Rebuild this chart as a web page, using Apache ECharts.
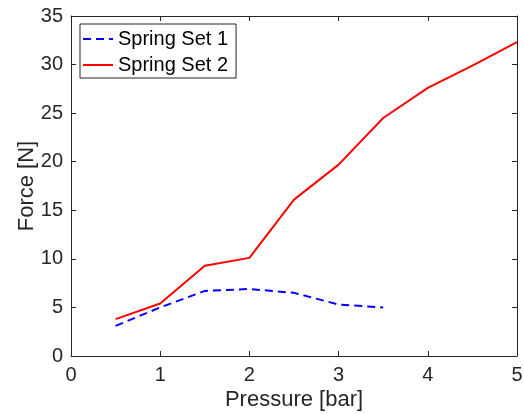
<!DOCTYPE html>
<html>
<head>
<meta charset="utf-8">
<script src="https://cdn.jsdelivr.net/npm/echarts@6/dist/echarts.min.js"></script>
<style>html,body{margin:0;padding:0;background:#fff;}#c{width:524px;height:414px;}</style>
</head>
<body>
<div id="c"></div>
<script>
const pressure1 = [0.5, 1, 1.5, 2, 2.5, 3, 3.5];
const force1 = [3.1, 5.0, 6.7, 6.9, 6.5, 5.3, 5.0];
const pressure2 = [0.5, 1, 1.5, 2, 2.5, 3, 3.5, 4, 4.5, 5];
const force2 = [3.8, 5.4, 9.3, 10.1, 16.1, 19.7, 24.5, 27.6, 29.9, 32.3];
const seriesNames = ['Spring Set 1', 'Spring Set 2'];
const xTitle = 'Pressure [bar]';
const yTitle = 'Force [N]';

const axisColor = '#262626';
const font = 'Liberation Sans, Arial, Helvetica, sans-serif';
const chart = echarts.init(document.getElementById('c'), null, {renderer: 'canvas'});
const baseAxis = {
  axisLine: {show: true, onZero: false, lineStyle: {color: axisColor, width: 1}},
  axisTick: {show: true, inside: true, length: 5, lineStyle: {color: axisColor}},
  splitLine: {show: false}
};
chart.setOption({
  animation: false,
  grid: {left: 71, right: 7, top: 16, bottom: 58, containLabel: false, outerBoundsMode: 'none'},
  legend: {
    orient: 'vertical', left: 80, top: 24,
    data: seriesNames,
    itemWidth: 30, itemHeight: 14, itemGap: 6, itemTextGap: 4,
    padding: [5, 8, 3, 2],
    borderColor: axisColor, borderWidth: 1, backgroundColor: '#fff',
    itemStyle: {opacity: 0},
    textStyle: {fontFamily: font, fontSize: 20, color: '#000'}
  },
  xAxis: [
    Object.assign({}, baseAxis, {
      type: 'value', min: 0, max: 5, interval: 1, position: 'bottom',
      name: xTitle, nameLocation: 'middle', nameGap: 33, nameMoveOverlap: false,
      nameTextStyle: {fontFamily: font, fontSize: 22, color: axisColor},
      axisLabel: {fontFamily: font, fontSize: 20, color: axisColor, margin: 9}
    }),
    Object.assign({}, baseAxis, {
      type: 'value', min: 0, max: 5, interval: 1, position: 'top',
      axisLabel: {show: false}
    })
  ],
  yAxis: [
    Object.assign({}, baseAxis, {
      type: 'value', min: 0, max: 35, interval: 5, position: 'left',
      name: yTitle, nameLocation: 'middle', nameGap: 33, nameMoveOverlap: false,
      nameTextStyle: {fontFamily: font, fontSize: 22, color: axisColor},
      axisLabel: {fontFamily: font, fontSize: 20, color: axisColor, margin: 8}
    }),
    Object.assign({}, baseAxis, {
      type: 'value', min: 0, max: 35, interval: 5, position: 'right',
      axisLabel: {show: false}
    })
  ],
  series: [
    {
      name: seriesNames[0], type: 'line', symbol: 'none',
      data: pressure1.map((p, i) => [p, force1[i]]),
      lineStyle: {color: '#0000ff', width: 2, type: [8, 5]},
      itemStyle: {color: '#0000ff'}
    },
    {
      name: seriesNames[1], type: 'line', symbol: 'none',
      data: pressure2.map((p, i) => [p, force2[i]]),
      lineStyle: {color: '#ff0000', width: 2},
      itemStyle: {color: '#ff0000'}
    }
  ]
});
</script>
</body>
</html>
